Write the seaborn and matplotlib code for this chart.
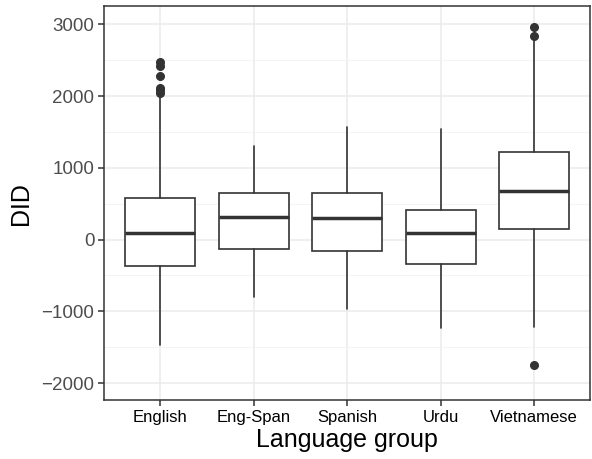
import numpy as np
import seaborn as sns
import matplotlib.pyplot as plt
from matplotlib.ticker import MultipleLocator

# box stats
groups = ['English', 'Eng-Span', 'Spanish', 'Urdu', 'Vietnamese']
whis_lo = [-1468, -804, -967, -1236, -1213]
q1 = [-363, -131, -155, -336, 150]
median = [96, 319, 305, 88, 677]
q3 = [584, 653, 653, 416, 1224]
whis_hi = [1990, 1304, 1572, 1540, 2800]
outliers = [
  [2040, 2080, 2110, 2280, 2420, 2470],
  [],
  [],
  [],
  [-1751, 2840, 2957],
]

sns.set_theme(style='whitegrid')
plt.rcParams['font.family'] = ['Liberation Sans', 'DejaVu Sans']

fig, ax = plt.subplots(figsize=(5.92, 4.59), dpi=100)

stats = []
for i, g in enumerate(groups):
  stats.append(dict(label=g, whislo=whis_lo[i], q1=q1[i], med=median[i],
                    q3=q3[i], whishi=whis_hi[i], fliers=outliers[i]))

dark = '#333333'
ax.bxp(stats, positions=range(len(groups)), widths=0.75, patch_artist=True,
       boxprops=dict(facecolor='white', edgecolor=dark, linewidth=1.2),
       medianprops=dict(color=dark, linewidth=2.5, solid_capstyle='butt'),
       whiskerprops=dict(color=dark, linewidth=1.2),
       capprops=dict(linewidth=0),
       flierprops=dict(marker='o', markerfacecolor=dark, markeredgecolor=dark, markersize=5.5),
       zorder=3)

ax.set_xlim(-0.6, len(groups) - 0.4)
ax.set_ylim(-2240, 3255)
ax.yaxis.set_major_locator(MultipleLocator(1000))
ax.yaxis.set_minor_locator(MultipleLocator(500))
ax.grid(which='major', color='#ebebeb', linewidth=1.1)
ax.grid(which='minor', axis='y', color='#f2f2f2', linewidth=0.6)
ax.set_axisbelow(True)
for s in ax.spines.values():
  s.set_color(dark)
  s.set_linewidth(1.1)
ax.tick_params(axis='both', which='major', length=4, width=1.1, color=dark, bottom=True, left=True, pad=3)
ax.tick_params(axis='y', which='minor', length=0)
ax.set_yticks(np.arange(-2000, 3001, 1000))
ax.set_yticklabels(['\u22122000', '\u22121000', '0', '1000', '2000', '3000'], fontsize=13.5, color='#4d4d4d')
ax.set_xticks(range(len(groups)))
ax.set_xticklabels(groups, fontsize=12, color='black')
ax.set_xlabel('Language group', fontsize=18, color='black', labelpad=2)
ax.set_ylabel('DID', fontsize=18, color='black', labelpad=6)

plt.subplots_adjust(left=0.176, right=0.997, top=0.987, bottom=0.128)
plt.savefig('out.png', dpi=100)
